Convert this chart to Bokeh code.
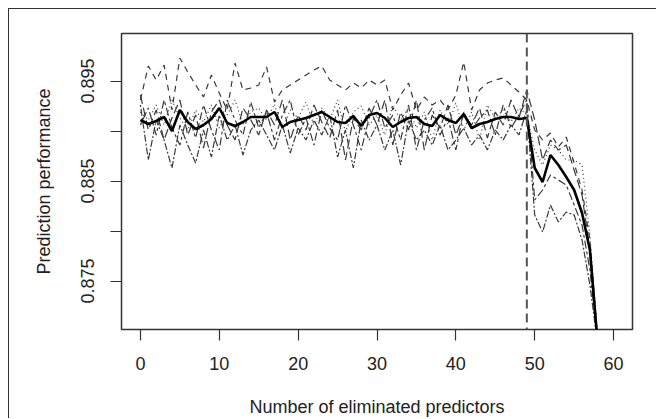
from bokeh.plotting import figure
from bokeh.models import FixedTicker, Span, Range1d
from bokeh.embed import file_html
from bokeh.resources import INLINE

x = list(range(59))

mean_perf = [0.8911, 0.8907, 0.8910, 0.8914, 0.8900, 0.8921, 0.8909, 0.8902, 0.8906, 0.8912,
             0.8923, 0.8908, 0.8905, 0.8909, 0.8914, 0.8914, 0.8914, 0.8919, 0.8904, 0.8909,
             0.8911, 0.8913, 0.8916, 0.8919, 0.8914, 0.8909, 0.8908, 0.8915, 0.8905, 0.8916,
             0.8918, 0.8913, 0.8904, 0.8909, 0.8913, 0.8914, 0.8907, 0.8905, 0.8916, 0.8911,
             0.8908, 0.8917, 0.8903, 0.8907, 0.8909, 0.8912, 0.8914, 0.8914, 0.8912, 0.8913,
             0.8863, 0.8849, 0.8876, 0.8866, 0.8854, 0.8841, 0.8818, 0.8781, 0.8686]

run_a = [0.8931, 0.8965, 0.8951, 0.8966, 0.8921, 0.8973, 0.8959, 0.8946, 0.8934, 0.8956,
         0.8938, 0.8921, 0.8968, 0.8941, 0.8943, 0.8946, 0.8964, 0.8929, 0.8941, 0.8946,
         0.8951, 0.8956, 0.8961, 0.8965, 0.8951, 0.8946, 0.8941, 0.8948, 0.8943, 0.8951,
         0.8946, 0.8951, 0.8921, 0.8936, 0.8948, 0.8921, 0.8934, 0.8926, 0.8931, 0.8921,
         0.8936, 0.8969, 0.8921, 0.8941, 0.8948, 0.8951, 0.8953, 0.8946, 0.8939, 0.8931,
         0.8901, 0.8891, 0.8898, 0.8884, 0.8894, 0.8868, 0.8841, 0.8791, 0.8691]

run_b = [0.8926, 0.8871, 0.8911, 0.8891, 0.8863, 0.8906, 0.8886, 0.8868, 0.8901, 0.8874,
         0.8916, 0.8891, 0.8906, 0.8876, 0.8901, 0.8911, 0.8896, 0.8881, 0.8906, 0.8878,
         0.8903, 0.8891, 0.8911, 0.8896, 0.8916, 0.8874, 0.8901, 0.8863, 0.8911, 0.8891,
         0.8906, 0.8881, 0.8901, 0.8866, 0.8911, 0.8891, 0.8901, 0.8886, 0.8906, 0.8881,
         0.8891, 0.8903, 0.8886, 0.8896, 0.8881, 0.8901, 0.8891, 0.8906, 0.8896, 0.8921,
         0.8816, 0.8799, 0.8826, 0.8809, 0.8819, 0.8816, 0.8791, 0.8746, 0.8686]

run_c = [0.8919, 0.8911, 0.8926, 0.8906, 0.8931, 0.8913, 0.8901, 0.8921, 0.8909, 0.8926,
         0.8903, 0.8916, 0.8931, 0.8906, 0.8919, 0.8923, 0.8911, 0.8927, 0.8901, 0.8921,
         0.8913, 0.8929, 0.8906, 0.8923, 0.8911, 0.8931, 0.8899, 0.8919, 0.8925, 0.8906,
         0.8916, 0.8896, 0.8926, 0.8911, 0.8923, 0.8903, 0.8919, 0.8891, 0.8921, 0.8906,
         0.8928, 0.8901, 0.8919, 0.8891, 0.8926, 0.8913, 0.8921, 0.8909, 0.8923, 0.8916,
         0.8881, 0.8866, 0.8886, 0.8881, 0.8871, 0.8871, 0.8866, 0.8796, 0.8691]

run_d = [0.8936, 0.8901, 0.8921, 0.8891, 0.8913, 0.8931, 0.8896, 0.8916, 0.8883, 0.8919,
         0.8931, 0.8906, 0.8891, 0.8923, 0.8911, 0.8896, 0.8921, 0.8906, 0.8931, 0.8891,
         0.8916, 0.8901, 0.8926, 0.8909, 0.8893, 0.8921, 0.8871, 0.8913, 0.8901, 0.8923,
         0.8906, 0.8931, 0.8886, 0.8919, 0.8901, 0.8931, 0.8881, 0.8916, 0.8903, 0.8926,
         0.8896, 0.8916, 0.8906, 0.8923, 0.8893, 0.8919, 0.8906, 0.8931, 0.8913, 0.8941,
         0.8911, 0.8871, 0.8891, 0.8881, 0.8886, 0.8861, 0.8836, 0.8781, 0.8691]

run_e = [0.8906, 0.8923, 0.8896, 0.8931, 0.8903, 0.8886, 0.8919, 0.8893, 0.8926, 0.8901,
         0.8881, 0.8931, 0.8911, 0.8896, 0.8929, 0.8903, 0.8919, 0.8891, 0.8916, 0.8931,
         0.8896, 0.8913, 0.8886, 0.8921, 0.8903, 0.8891, 0.8926, 0.8906, 0.8881, 0.8913,
         0.8931, 0.8903, 0.8916, 0.8891, 0.8926, 0.8881, 0.8911, 0.8923, 0.8896, 0.8913,
         0.8881, 0.8919, 0.8901, 0.8913, 0.8921, 0.8896, 0.8926, 0.8903, 0.8916, 0.8931,
         0.8831, 0.8841, 0.8856, 0.8851, 0.8846, 0.8826, 0.8806, 0.8761, 0.8686]

x_ticks = [0, 10, 20, 30, 40, 50, 60]
y_ticks = [0.875, 0.88, 0.885, 0.89, 0.895]
y_labels = {0.875: "0.875", 0.88: "", 0.885: "0.885", 0.89: "", 0.895: "0.895"}
cutoff = 49

FONT = "Liberation Sans"
TXT = "#222222"

p = figure(width=648, height=410, output_backend="svg", toolbar_location=None,
           x_range=Range1d(-2.4, 62.4), y_range=Range1d(0.87015, 0.89975),
           min_border_left=112, min_border_right=25, min_border_top=24, min_border_bottom=87)
p.styles = {"margin-left": "8px", "margin-top": "8px",
            "border-top": "1px solid #333333", "border-left": "1px solid #333333"}
p.grid.visible = False
p.outline_line_color = "#333333"
p.outline_line_width = 1.5
p.background_fill_color = "white"
p.border_fill_color = "white"

styles = [("#3a3a3a", "6 5", run_a), ("#3a3a3a", "2 2 7 2", run_b), ("#3a3a3a", "1 3", run_c),
          ("#3a3a3a", "9 4", run_d), ("#3a3a3a", "3 3 8 3", run_e)]
for col, dash, ys in styles:
    p.line(x, ys, line_color=col, line_width=1.2, line_dash=dash)

p.line(x, mean_perf, line_color="black", line_width=2.6)

p.add_layout(Span(location=cutoff, dimension="height", line_color="#555555",
                  line_width=2, line_dash="9 5"))

for ax in (p.xaxis[0], p.yaxis[0]):
    ax.axis_line_color = None
    ax.major_tick_line_color = "#333333"
    ax.major_tick_line_width = 1.2
    ax.major_tick_out = 11
    ax.major_tick_in = 0
    ax.minor_tick_line_color = None
    ax.major_label_text_font = FONT
    ax.major_label_text_font_size = "18px"
    ax.major_label_text_color = TXT
    ax.axis_label_text_font = FONT
    ax.axis_label_text_font_size = "18px"
    ax.axis_label_text_font_style = "normal"
    ax.axis_label_text_color = TXT

p.xaxis.ticker = FixedTicker(ticks=x_ticks)
p.yaxis.ticker = FixedTicker(ticks=y_ticks)
p.yaxis.major_label_overrides = y_labels
p.yaxis.major_label_orientation = "vertical"
p.xaxis.major_label_standoff = 16
p.yaxis.major_label_standoff = 17
p.xaxis.axis_label = "Number of eliminated predictors"
p.yaxis.axis_label = "Prediction performance"
p.xaxis.axis_label_standoff = 24
p.yaxis.axis_label_standoff = 24

open("out.html", "w").write(file_html(p, INLINE))
